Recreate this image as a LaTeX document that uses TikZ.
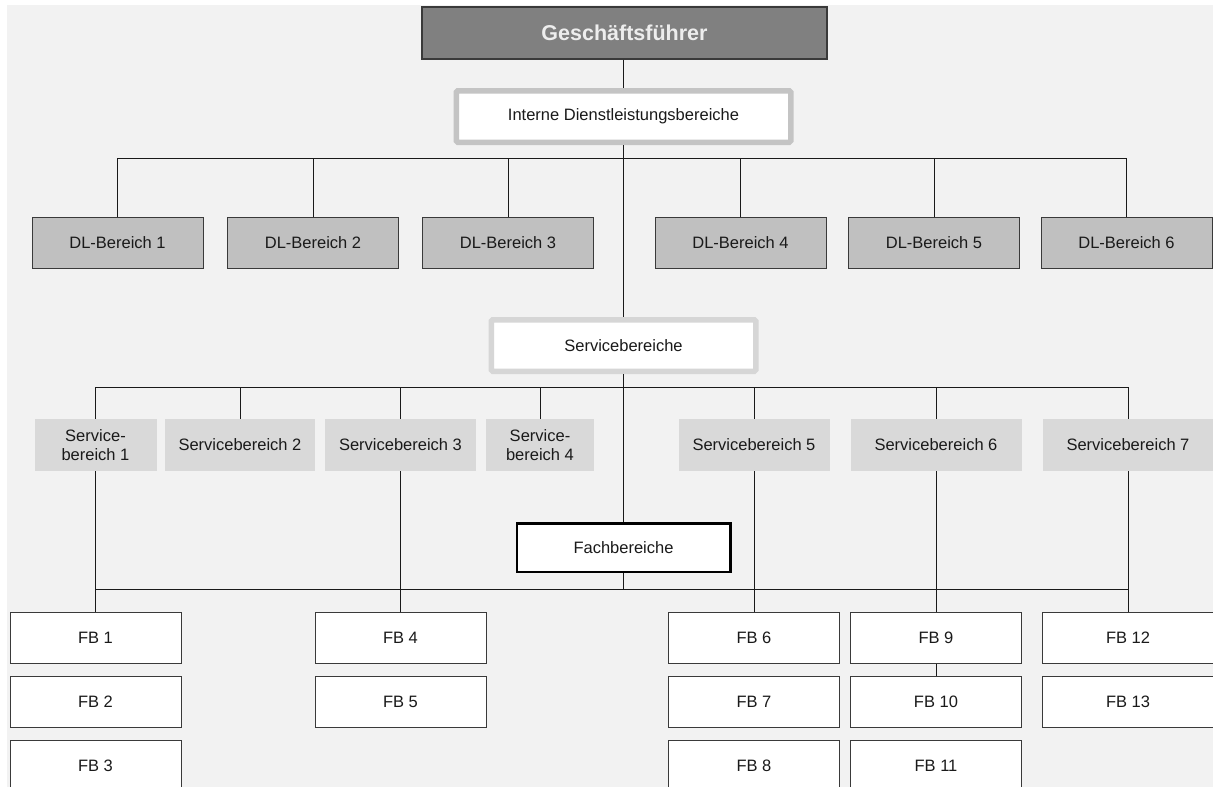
\documentclass[tikz,border=0pt]{standalone}
\usepackage{fontspec}
\setmainfont{Liberation Sans}
\definecolor{bg}{HTML}{F2F2F2}
\definecolor{txt}{HTML}{1A1A1A}
\definecolor{edge}{HTML}{3A3A3A}
\definecolor{gffill}{HTML}{808080}
\definecolor{gftext}{HTML}{EDEDED}
\definecolor{dlfill}{HTML}{C0C0C0}
\definecolor{sbfill}{HTML}{D9D9D9}
\definecolor{frameA}{HTML}{C4C4C4}
\definecolor{frameB}{HTML}{D6D6D6}
\begin{document}
\begin{tikzpicture}[x=1pt,y=-1pt,
  base/.style={rectangle, inner sep=0pt, align=center, text=txt,
    font=\fontsize{16.5}{19}\selectfont},
  topbox/.style={base, draw=edge, fill=gffill, line width=1.3pt,
    minimum width=405pt, minimum height=52pt, text=gftext,
    font=\bfseries\fontsize{21.5}{24}\selectfont},
  levelbox/.style={base, fill=white, line width=5.5pt, rounded corners=1.5pt,
    minimum height=51.5pt},
  dlbox/.style={base, draw=edge, fill=dlfill, line width=1pt,
    minimum width=171pt, minimum height=50.5pt},
  sbbox/.style={base, fill=sbfill, minimum height=52pt},
  fachbox/.style={base, draw=black, fill=white, line width=2.5pt,
    minimum width=213.5pt, minimum height=48.5pt},
  fbbox/.style={base, draw=edge, fill=white, line width=1pt,
    minimum width=171pt, minimum height=51pt},
  link/.style={draw=txt, line width=1pt}]
\useasboundingbox (0,0) rectangle (1213,787);
\clip (0,0) rectangle (1213,787);
\fill[bg] (7,5) rectangle (1213,787);

% management and the three levels
\node[topbox] (gf) at (624.5,33) {Geschäftsführer};
\node[levelbox, draw=frameA, minimum width=334.5pt] (idl) at (623.5,116.5)
  {Interne Dienstleistungsbereiche};
\node[levelbox, draw=frameB, minimum width=264.5pt] (sb) at (623.5,345.5)
  {Servicebereiche};
\node[fachbox] (fach) at (623.5,547.5) {Fachbereiche};

% internal service units
\node[dlbox] (dl1) at (117.5,243) {DL-Bereich 1};
\node[dlbox] (dl2) at (313,243) {DL-Bereich 2};
\node[dlbox] (dl3) at (508,243) {DL-Bereich 3};
\node[dlbox] (dl4) at (740.5,243) {DL-Bereich 4};
\node[dlbox] (dl5) at (934,243) {DL-Bereich 5};
\node[dlbox] (dl6) at (1126.5,243) {DL-Bereich 6};

% service units
\node[sbbox, minimum width=122pt] (sb1) at (95.5,445) {Service-\\bereich 1};
\node[sbbox, minimum width=150pt] (sb2) at (240,445) {Servicebereich 2};
\node[sbbox, minimum width=151pt] (sb3) at (400.5,445) {Servicebereich 3};
\node[sbbox, minimum width=108pt] (sb4) at (540,445) {Service-\\bereich 4};
\node[sbbox, minimum width=151pt] (sb5) at (754,445) {Servicebereich 5};
\node[sbbox, minimum width=171pt] (sb6) at (936,445) {Servicebereich 6};
\node[sbbox, minimum width=170pt] (sb7) at (1128,445) {Servicebereich 7};

% departments
\node[fbbox] (fb1) at (95.5,637.5) {FB 1};
\node[fbbox] (fb2) at (95.5,702) {FB 2};
\node[fbbox] (fb3) at (95.5,766) {FB 3};
\node[fbbox] (fb4) at (400.5,637.5) {FB 4};
\node[fbbox] (fb5) at (400.5,702) {FB 5};
\node[fbbox] (fb6) at (754,637.5) {FB 6};
\node[fbbox] (fb7) at (754,702) {FB 7};
\node[fbbox] (fb8) at (754,766) {FB 8};
\node[fbbox] (fb9) at (936,637.5) {FB 9};
\node[fbbox] (fb10) at (936,702) {FB 10};
\node[fbbox] (fb11) at (936,766) {FB 11};
\node[fbbox] (fb12) at (1128,637.5) {FB 12};
\node[fbbox] (fb13) at (1128,702) {FB 13};

% bus coordinates
\coordinate (dlbar) at (623.5,158.5);
\coordinate (sbbar) at (623.5,387.5);
\coordinate (fbbar) at (623.5,589.5);

% spine
\path[link] (gf.south -| idl.north) -- (idl.north);
\path[link] (idl.south) -- (sb.north);
\path[link] (sb.south) -- (fach.north);
\path[link] (fach.south) -- (fbbar);

% internal service bus
\path[link] (dl1.north) |- (dlbar) -| (dl6.north);
\foreach \n in {dl2,dl3,dl4,dl5}
  \path[link] (\n.north) -- (\n.north |- dlbar);

% service bus
\path[link] (sb1.north) |- (sbbar) -| (sb7.north);
\foreach \n in {sb2,sb3,sb4,sb5,sb6}
  \path[link] (\n.north) -- (\n.north |- sbbar);

% department bus
\path[link] (fb1.north |- fbbar) -- (fb12.north |- fbbar);
\path[link] (sb1.south) -- (fb1.north);
\path[link] (sb3.south) -- (fb4.north);
\path[link] (sb5.south) -- (fb6.north);
\path[link] (sb6.south) -- (fb9.north);
\path[link] (sb7.south) -- (fb12.north);
\path[link] (fb9.south) -- (fb10.north);
\end{tikzpicture}
\end{document}
